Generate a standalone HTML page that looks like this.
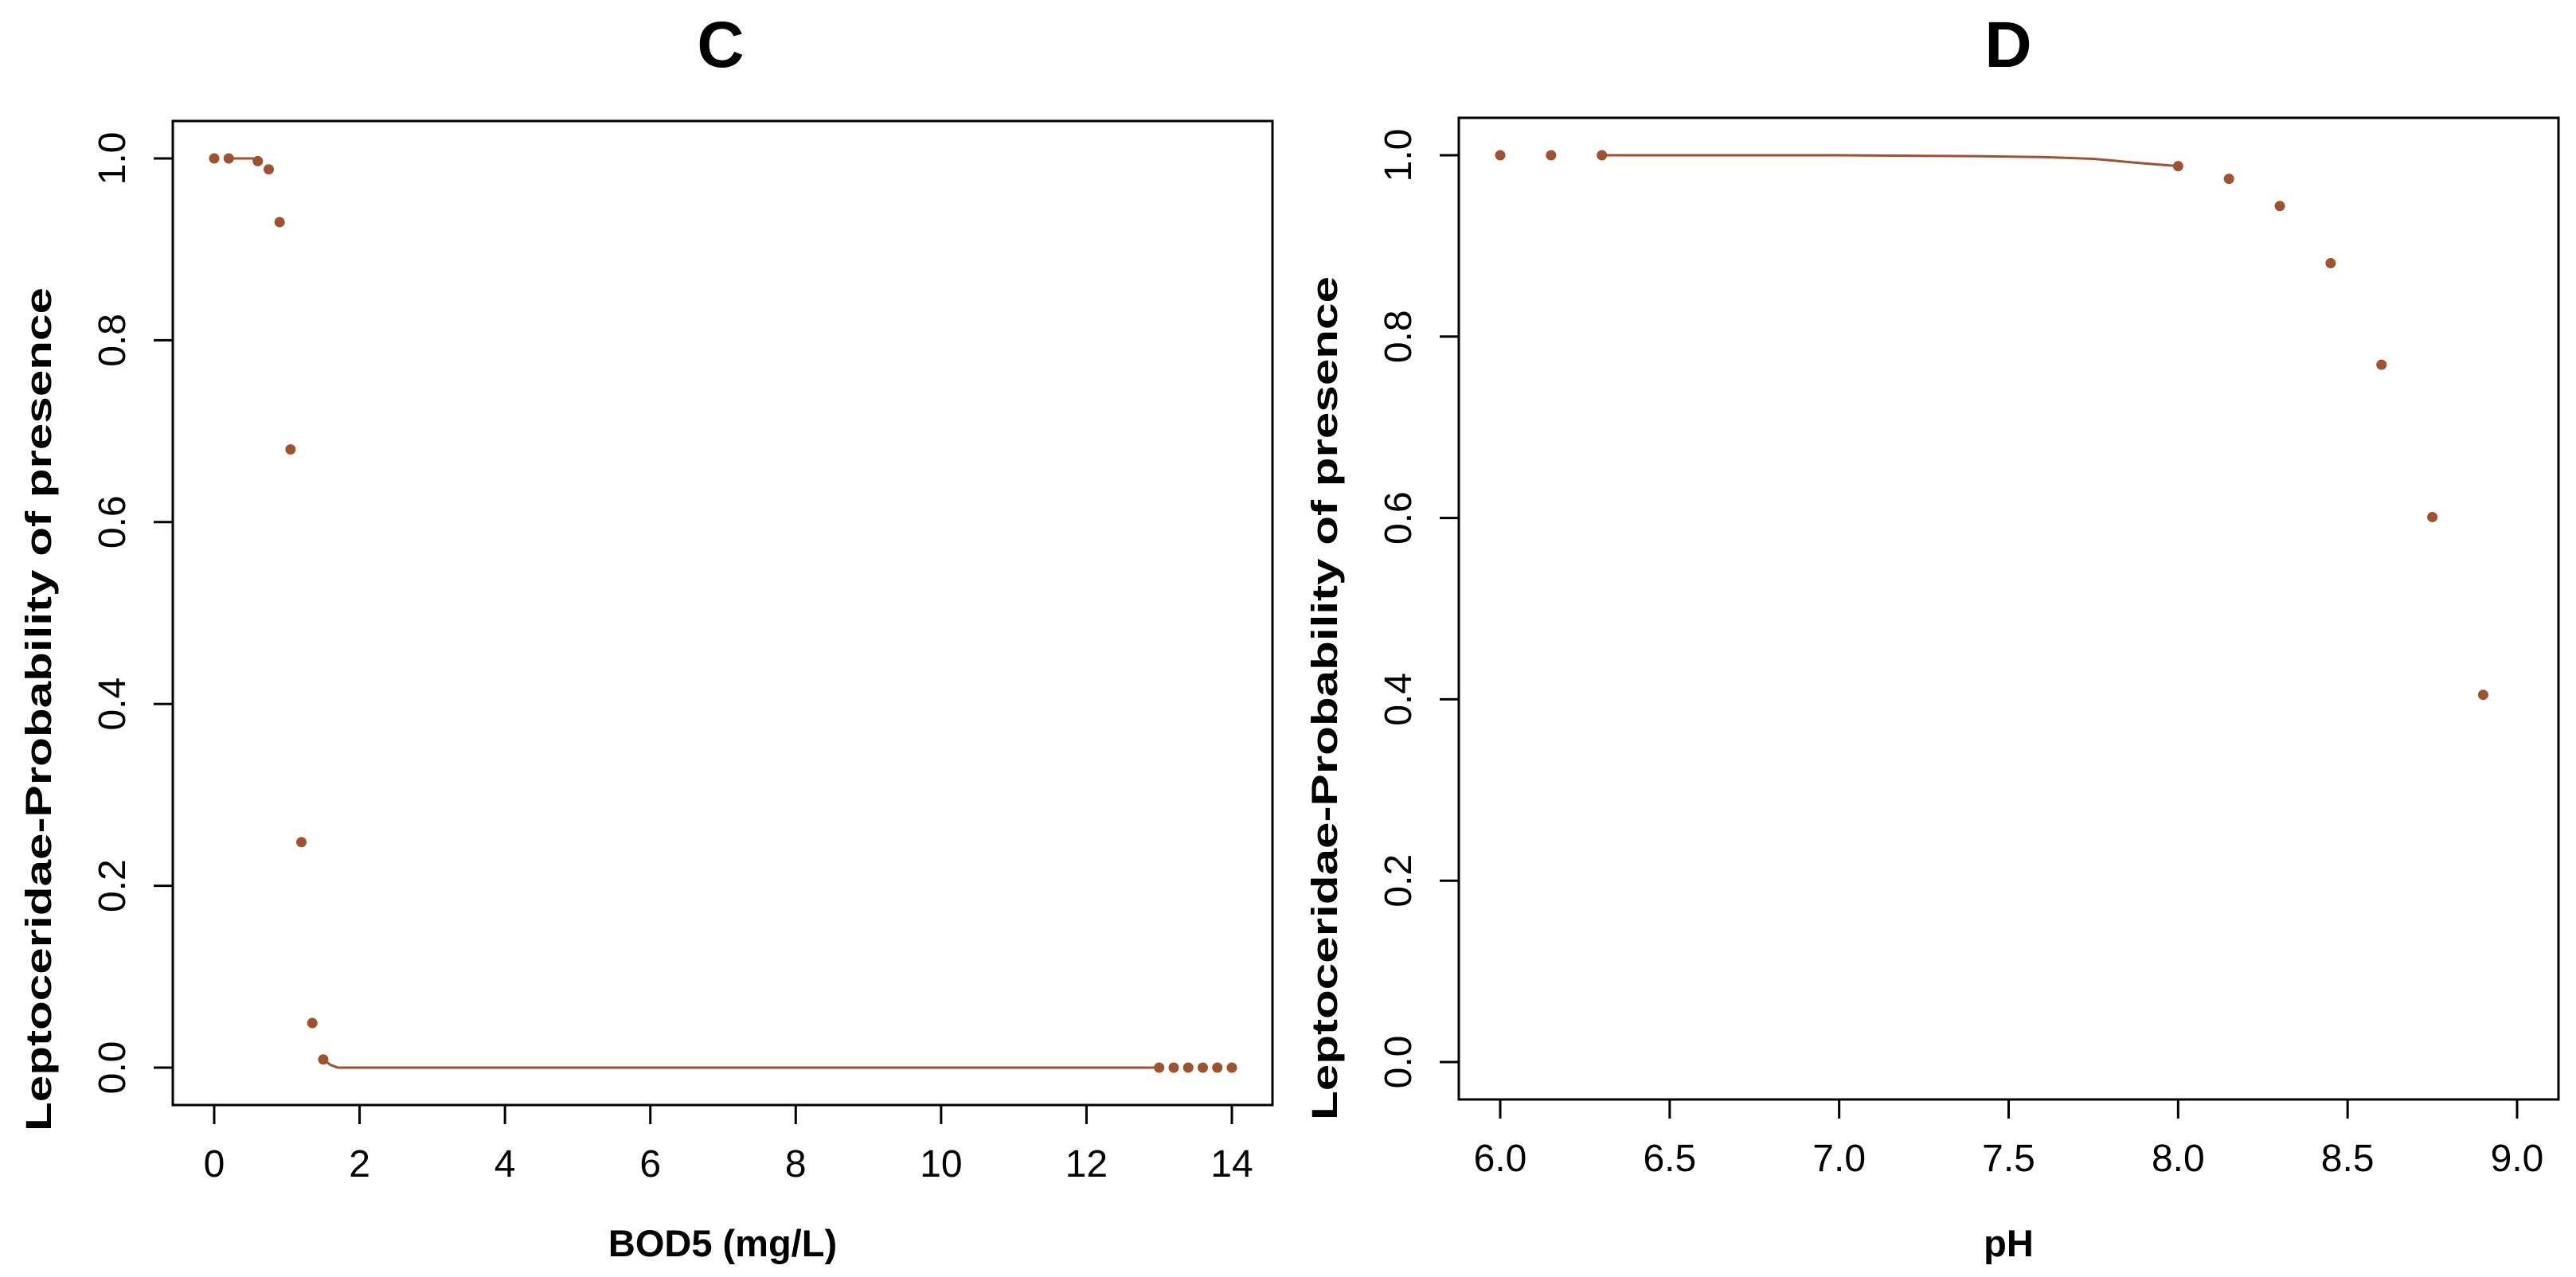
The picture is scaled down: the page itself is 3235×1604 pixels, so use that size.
<!DOCTYPE html>
<html><head><meta charset="utf-8"><style>
html,body{margin:0;padding:0;background:#fff;}
svg{display:block;font-family:"Liberation Sans",Arial,sans-serif;}
</style></head><body>
<svg id="chart" width="3235" height="1604" viewBox="0 0 3235 1604" xmlns="http://www.w3.org/2000/svg">
<rect width="3235" height="1604" fill="#fff"/>
</svg>
<script>
// Panel C data
const cX = [0, 0.2, 0.6, 0.75, 0.9, 1.05, 1.2, 1.35, 1.5, 13.0, 13.2, 13.4, 13.6, 13.8, 14.0];
const cY = [1.0, 1.0, 0.997, 0.988, 0.93, 0.68, 0.248, 0.049, 0.009, 0, 0, 0, 0, 0, 0];
const cCurveX = [0.2, 0.6];
const cCurveY = [1.0, 1.0];
const cCurve2X = [1.5, 1.6, 1.7, 13.0];
const cCurve2Y = [0.009, 0.003, 0.0, 0.0];
const cXTicks = [0, 2, 4, 6, 8, 10, 12, 14];
const yTicks = [0, 0.2, 0.4, 0.6, 0.8, 1.0];
const yTickLabels = ["0.0", "0.2", "0.4", "0.6", "0.8", "1.0"];
// Panel D data
const dX = [6.0, 6.15, 6.3, 8.0, 8.15, 8.3, 8.45, 8.6, 8.75, 8.9];
const dY = [1.0, 1.0, 1.0, 0.988, 0.974, 0.944, 0.881, 0.769, 0.601, 0.405];
const dCurveX = [6.3, 7.0, 7.4, 7.6, 7.75, 7.9, 8.0];
const dCurveY = [1.0, 1.0, 0.999, 0.998, 0.996, 0.991, 0.988];
const dXTicks = [6.0, 6.5, 7.0, 7.5, 8.0, 8.5, 9.0];
const dXTickLabels = ["6.0", "6.5", "7.0", "7.5", "8.0", "8.5", "9.0"];

const NS = "http://www.w3.org/2000/svg";
const svg = document.getElementById("chart");
const COL = "#a0522d";
function mk(tag, attrs, parent) {
  const e = document.createElementNS(NS, tag);
  for (const k in attrs) e.setAttribute(k, attrs[k]);
  (parent || svg).appendChild(e);
  return e;
}
function panel(cfg) {
  const g = mk("g", {});
  
  
  const sx = v => cfg.x0px + (v - cfg.x0v) * (cfg.x1px - cfg.x0px) / (cfg.x1v - cfg.x0v);
  const sy = v => cfg.y0px + v * (cfg.y1px - cfg.y0px);
  const box = mk("rect", {x: cfg.L, y: cfg.T, width: cfg.R - cfg.L, height: cfg.B - cfg.T, fill: "none", stroke: "#000", "stroke-width": 3}, g);
  
  
  cfg.xt.forEach((v, i) => {
    const t = mk("line", {x1: sx(v), x2: sx(v), y1: cfg.B, y2: cfg.B + 24, stroke: "#000", "stroke-width": 3}, g);
    
    
    const l = mk("text", {x: sx(v), y: cfg.B + 90, "text-anchor": "middle", "font-size": 48}, g);
    
    
    l.textContent = cfg.xl[i];
  });
  yTicks.forEach((v, i) => {
    const t = mk("line", {x1: cfg.L - 24, x2: cfg.L, y1: sy(v), y2: sy(v), stroke: "#000", "stroke-width": 3}, g);
    
    
    const lx = cfg.L - 60;
    const l = mk("text", {x: lx, y: sy(v), "text-anchor": "middle", "font-size": 48, transform: `rotate(-90 ${lx} ${sy(v)})`}, g);
    
    
    l.textContent = yTickLabels[i];
  });
  cfg.curves.forEach(c => {
    const p = mk("polyline", {points: c[0].map((v, i) => sx(v) + "," + sy(c[1][i])).join(" "), fill: "none", stroke: COL, "stroke-width": 3}, g);
    
    
  });
  cfg.px.forEach((v, i) => {
    const c = mk("circle", {cx: sx(v), cy: sy(cfg.py[i]), r: 6.5, fill: COL}, g);
    
    
  });
  const ti = mk("text", {x: cfg.tx, y: 84, "text-anchor": "middle", "font-size": 82, "font-weight": "bold"}, g);
  
  
  ti.textContent = cfg.title;
  const xt = mk("text", {x: (cfg.L + cfg.R) / 2, y: 1578, "text-anchor": "middle", "font-size": 47, "font-weight": "bold"}, g);
  
  
  xt.textContent = cfg.xtitle;
  const yx = cfg.L - 153, yy = cfg.ytc;
  const yt = mk("text", {x: yx, y: yy, "text-anchor": "middle", "font-size": 45, "font-weight": "bold", "textLength": 1060, "lengthAdjust": "spacingAndGlyphs", transform: `rotate(-90 ${yx} ${yy})`}, g);
  
  
  yt.textContent = "Leptoceridae-Probability of presence";
}
panel({name: "panel-c-bod5", L: 217, T: 152, R: 1598, B: 1388, x0v: 0, x1v: 14, x0px: 269, x1px: 1547, y0px: 1341, y1px: 199,
  xt: cXTicks, xl: cXTicks.map(String), px: cX, py: cY, curves: [[cCurveX, cCurveY], [cCurve2X, cCurve2Y]],
  title: "C", tx: 905, xtitle: "BOD5 (mg/L)", ytc: 891});
panel({name: "panel-d-ph", L: 1832, T: 148, R: 3213, B: 1381, x0v: 6, x1v: 9, x0px: 1884, x1px: 3161, y0px: 1334, y1px: 195,
  xt: dXTicks, xl: dXTickLabels, px: dX, py: dY, curves: [[dCurveX, dCurveY]],
  title: "D", tx: 2522, xtitle: "pH", ytc: 877});
</script>
</body></html>
